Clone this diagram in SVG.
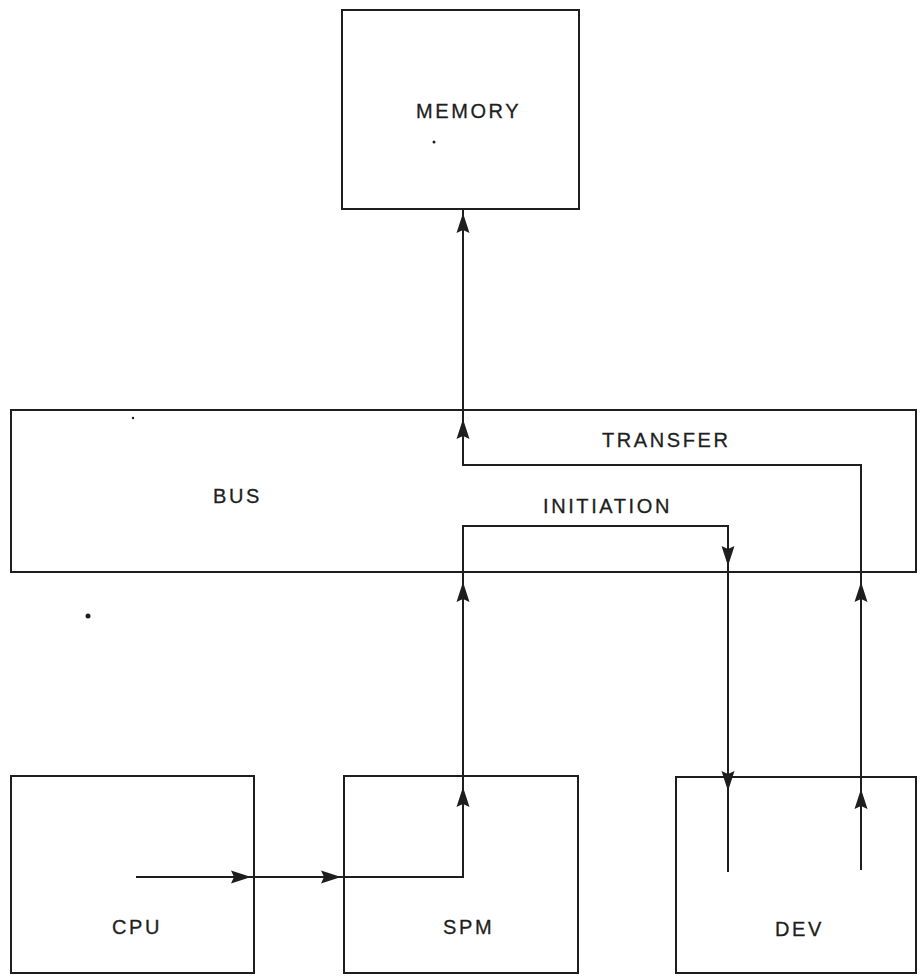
<svg xmlns="http://www.w3.org/2000/svg" xmlns:xlink="http://www.w3.org/1999/xlink" width="924" height="978" viewBox="0 0 924 978">
<style>
.box{fill:none;stroke:#1e1e1e;stroke-width:2}
.wire{fill:none;stroke:#1e1e1e;stroke-width:2}
.lbl{font-family:"Liberation Sans",Arial,sans-serif;font-size:20px;letter-spacing:2.6px;fill:#1e1e1e;stroke:#1e1e1e;stroke-width:0.3}
.ah{fill:#1e1e1e}
.dot{fill:#1e1e1e}
</style>
<defs>
<path id="up" class="ah" d="M0,-11 L6.5,9 L0,6 L-6.5,9 Z"/>
</defs>
<rect width="924" height="978" fill="#fff"/>
<g id="memory">
<rect class="box" x="342" y="10" width="237" height="199"/>
<text class="lbl" x="416" y="118">MEMORY</text>
</g>
<g id="bus">
<rect class="box" x="11" y="410" width="905" height="162"/>
<text class="lbl" x="213" y="503">BUS</text>
<text class="lbl" x="602" y="447">TRANSFER</text>
<text class="lbl" x="543" y="513">INITIATION</text>
</g>
<g id="cpu">
<rect class="box" x="11" y="776" width="243" height="197"/>
<text class="lbl" x="112" y="934">CPU</text>
</g>
<g id="spm">
<rect class="box" x="344" y="776" width="234" height="197"/>
<text class="lbl" x="443" y="934">SPM</text>
</g>
<g id="dev">
<rect class="box" x="676" y="777" width="240" height="196"/>
<text class="lbl" x="775" y="936">DEV</text>
</g>
<g id="connectors">
<path class="wire" d="M136,877 H463 V526 H728 V872"/>
<path class="wire" d="M861,870 V465 H463 V209"/>
<use xlink:href="#up" transform="translate(463,224)"/>
<use xlink:href="#up" transform="translate(463,430)"/>
<use xlink:href="#up" transform="translate(463,593)"/>
<use xlink:href="#up" transform="translate(463,798)"/>
<use xlink:href="#up" transform="translate(861,593)"/>
<use xlink:href="#up" transform="translate(861,800)"/>
<use xlink:href="#up" transform="translate(728,555) rotate(180)"/>
<use xlink:href="#up" transform="translate(728,780) rotate(180)"/>
<use xlink:href="#up" transform="translate(240,877) rotate(90)"/>
<use xlink:href="#up" transform="translate(330,877) rotate(90)"/>
</g>
<circle class="dot" cx="434" cy="142" r="1.5"/>
<circle class="dot" cx="88" cy="616" r="2.5"/>
<circle class="dot" cx="133" cy="418" r="1.2"/>
</svg>
